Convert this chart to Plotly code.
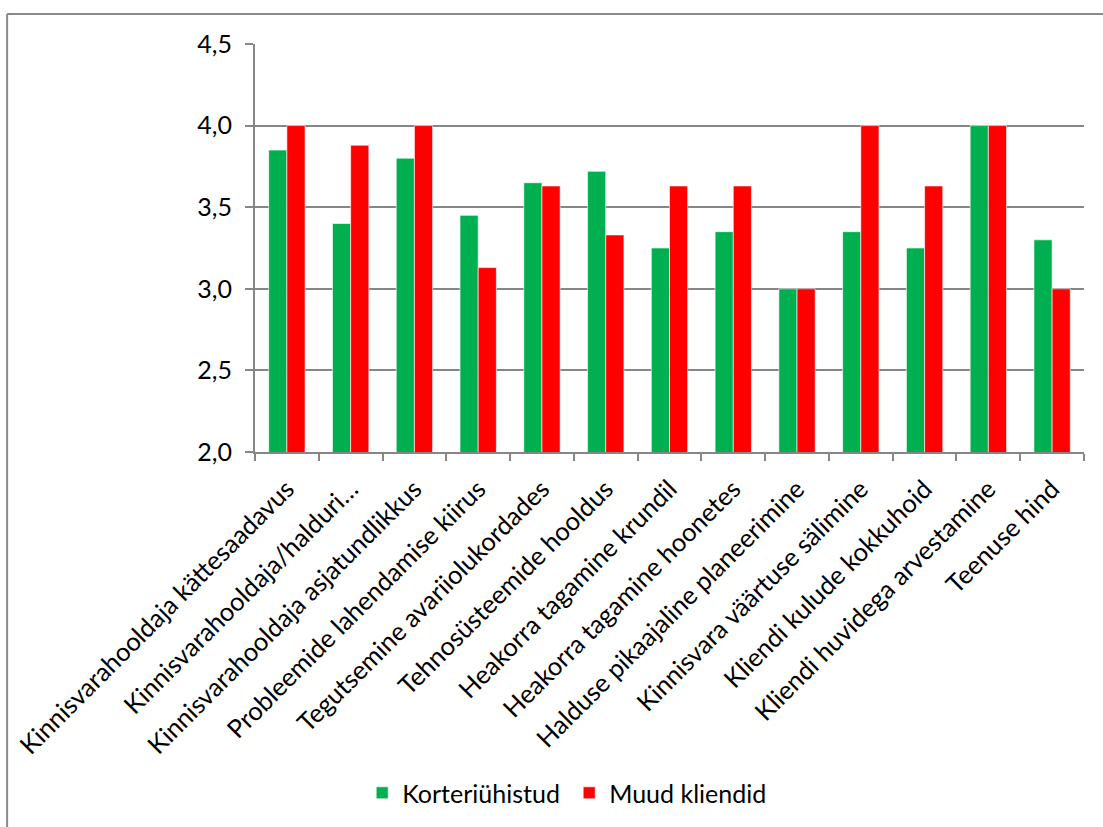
import plotly.graph_objects as go

categories = [
    "Kinnisvarahooldaja kättesaadavus",
    "Kinnisvarahooldaja/halduri…",
    "Kinnisvarahooldaja asjatundlikkus",
    "Probleemide lahendamise kiirus",
    "Tegutsemine avariiolukordades",
    "Tehnosüsteemide hooldus",
    "Heakorra tagamine krundil",
    "Heakorra tagamine hoonetes",
    "Halduse pikaajaline planeerimine",
    "Kinnisvara väärtuse sälimine",
    "Kliendi kulude kokkuhoid",
    "Kliendi huvidega arvestamine",
    "Teenuse hind",
]
korteriuhistud = [3.85, 3.40, 3.80, 3.45, 3.65, 3.72, 3.25, 3.35, 3.00, 3.35, 3.25, 4.00, 3.30]
muud_kliendid = [4.00, 3.88, 4.00, 3.13, 3.63, 3.33, 3.63, 3.63, 3.00, 4.00, 3.63, 4.00, 3.00]

y_ticks = [2.0, 2.5, 3.0, 3.5, 4.0, 4.5]

GREEN = "#00B050"
RED = "#FF0000"
GRID = "#868686"
FONT = "Lato, 'Open Sans', sans-serif"

fig = go.Figure()
fig.add_trace(go.Bar(
    x=categories, y=korteriuhistud, name="Korteriühistud",
    marker=dict(color=GREEN, line=dict(color="rgba(255,255,255,0.6)", width=1)),
))
fig.add_trace(go.Bar(
    x=categories, y=muud_kliendid, name="Muud kliendid",
    marker=dict(color=RED, line=dict(color="rgba(255,255,255,0.6)", width=1)),
))

fig.update_layout(
    width=1103, height=827,
    margin=dict(l=255, r=19, t=44, b=375, autoexpand=False),
    paper_bgcolor="white", plot_bgcolor="white",
    separators=", ",
    barmode="group", bargap=0.43, bargroupgap=0,
    font=dict(family=FONT, size=24, color="black"),
    showlegend=True,
    legend=dict(
        orientation="h", x=0.379, xanchor="center", y=-0.836, yanchor="middle",
        font=dict(family=FONT, size=25, color="black"),
        itemwidth=30, entrywidth=162, entrywidthmode="pixels",
        bgcolor="rgba(0,0,0,0)",
    ),
    xaxis=dict(
        type="category", tickangle=-45, tickson="boundaries",
        ticks="outside", ticklen=7, tickcolor=GRID, tickwidth=1.5,
        showline=True, linecolor=GRID, linewidth=2,
        showgrid=False, automargin=False, ticklabelstandoff=10,
        tickfont=dict(family=FONT, size=25.5, color="black"),
    ),
    yaxis=dict(
        range=[2.0, 4.5], tickvals=y_ticks, tickformat=".1f",
        ticks="outside", ticklen=8, tickcolor=GRID, tickwidth=1.5,
        showline=True, linecolor=GRID, linewidth=2,
        showgrid=True, gridcolor=GRID, gridwidth=1.5,
        zeroline=False, automargin=False,
        tickfont=dict(family=FONT, size=25, color="black"),
        ticklabelstandoff=8,
    ),
    shapes=[
        # chart frame: top and left edges
        dict(type="line", xref="paper", yref="paper", x0=-0.299, x1=1.03, y0=1.0735, y1=1.0735,
             line=dict(color="#898989", width=2)),
        dict(type="line", xref="paper", yref="paper", x0=-0.299, x1=-0.299, y0=1.0735, y1=-0.93,
             line=dict(color="#898989", width=2)),
    ],
)

fig.write_html("out.html")
